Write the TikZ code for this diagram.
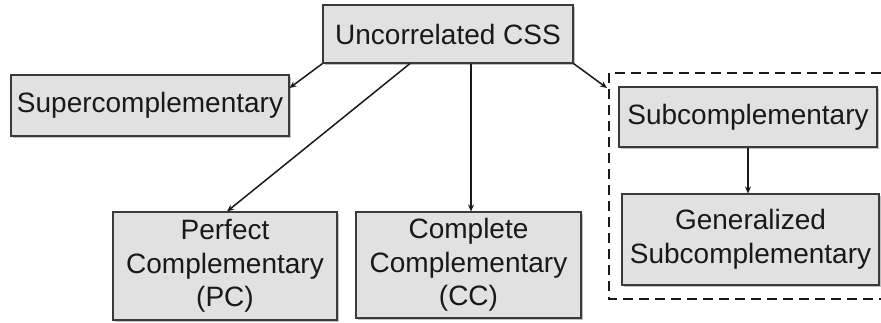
\documentclass[tikz,border=0pt]{standalone}
\usepackage{fontspec}
\setmainfont{Liberation Sans}
\usetikzlibrary{arrows.meta,shadows}
\definecolor{boxfill}{HTML}{E1E1E1}
\definecolor{boxline}{HTML}{3A3A3A}
\tikzset{
  catbox/.style={draw=boxline, line width=1.1pt, fill=boxfill, rectangle,
    inner sep=0pt, align=center, text=black!90,
    font=\fontsize{28}{33.5}\selectfont,
    drop shadow={shadow xshift=1.6pt, shadow yshift=-1.6pt, fill=black!45, opacity=.55}},
  link/.style={draw=black!90, line width=1.5pt, -{Stealth[length=7pt,width=6pt]}},
  groupline/.style={draw=black!90, line width=1.6pt, dash pattern=on 10pt off 6pt},
}
\begin{document}
\begin{tikzpicture}[x=1pt,y=-1pt]
  \useasboundingbox (0,0) rectangle (881,322);
  % corners of the dashed group; it runs on past the right edge
  \coordinate (gnw) at (609,73);
  \coordinate (gsw) at (609,299);
  % category boxes
  \node[catbox, minimum width=250pt, minimum height=58pt] (top) at (448,34) {Uncorrelated CSS};
  \node[catbox, minimum width=278pt, minimum height=61pt] (super) at (150,105.5) {Supercomplementary};
  \node[catbox, minimum width=258pt, minimum height=60pt] (sub) at (748,117) {Subcomplementary};
  \node[catbox, minimum width=257pt, minimum height=91pt] (gen) at (750.5,239.5) {Generalized\\Subcomplementary};
  \begin{scope}
    \clip (0,0) rectangle (881,322);
    \node[catbox, minimum width=224pt, minimum height=108pt] (pc) at (225,266) {Perfect\\Complementary\\(PC)};
    \node[catbox, minimum width=225pt, minimum height=106pt] (cc) at (468.5,265) {Complete\\Complementary\\(CC)};
  \end{scope}
  % dashed group outline, open on the right
  \draw[groupline] (881,73) -- (gnw) -- (gsw) -- (881,299);
  % connectors
  \draw[link] (top.south west) -- ([yshift=17.5pt]super.east);
  \draw[link] ([xshift=-38pt]top.south) -- ([xshift=2pt]pc.north);
  \draw[link] ([xshift=23pt]top.south) -- ([xshift=23pt]top.south |- cc.north);
  \draw[link] (top.south east) -- ([xshift=-2pt,yshift=-15pt]gnw);
  \draw[link] (sub.south) -- (sub.south |- gen.north);
\end{tikzpicture}
\end{document}
